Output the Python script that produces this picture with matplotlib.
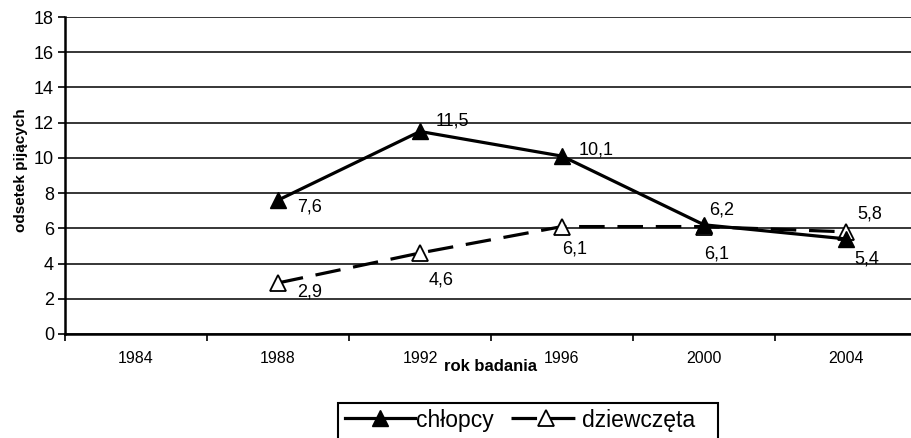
import matplotlib
matplotlib.use("Agg")
import matplotlib.pyplot as plt
from matplotlib.patches import Rectangle
import numpy as np

plt.rcParams['font.family'] = ['Liberation Sans', 'DejaVu Sans']

years = ["1984", "1988", "1992", "1996", "2000", "2004"]
chlopcy = [np.nan, 7.6, 11.5, 10.1, 6.2, 5.4]
dziewczeta = [np.nan, 2.9, 4.6, 6.1, 6.1, 5.8]
chl_labels = ["", "7,6", "11,5", "10,1", "6,2", "5,4"]
dz_labels = ["", "2,9", "4,6", "6,1", "6,1", "5,8"]

W, H = 912, 438
fig = plt.figure(figsize=(W / 100, H / 100), dpi=100)
ax = fig.add_axes([65 / W, 1 - 334 / H, 852 / W, 317 / H])

x = np.arange(len(years))
l1, = ax.plot(x, chlopcy, color='black', lw=2.3, marker='^', markersize=11,
              markerfacecolor='black', markeredgecolor='black', label='chłopcy', zorder=4)
l2, = ax.plot(x, dziewczeta, color='black', lw=2.3, marker='^', markersize=11,
              markerfacecolor='white', markeredgecolor='black', markeredgewidth=1.3,
              label='dziewczęta', dashes=(8, 4), zorder=3)

# data labels (offsets in points; left edge / vertical centre)
chl_off = [None, (14, -5), (11, 7.5), (12, 4.5), (4, 10.5), (6, -14.5)]
dz_off = [None, (14, -6.5), (6, -19.5), (0, -16.5), (0, -20), (8, 12.5)]
for i in range(len(years)):
    if chl_labels[i]:
        ax.annotate(chl_labels[i], (x[i], chlopcy[i]), xytext=chl_off[i],
                    textcoords='offset points', fontsize=13, va='center', ha='left')
    if dz_labels[i]:
        ax.annotate(dz_labels[i], (x[i], dziewczeta[i]), xytext=dz_off[i],
                    textcoords='offset points', fontsize=13, va='center', ha='left')

ax.set_xlim(-0.5, len(years) - 0.5)
ax.set_ylim(0, 18)
ax.set_yticks(np.arange(0, 19, 2))
ax.set_xticks(x)
ax.set_xticklabels(years, fontsize=11.5)
ax.set_xticks(np.arange(-0.5, len(years), 1), minor=True)
ax.tick_params(axis='x', which='major', length=0, pad=12.5)
ax.tick_params(axis='x', which='minor', length=5, direction='out', width=1.2)
ax.tick_params(axis='y', labelsize=13, length=5, direction='out', width=1.2, pad=3)
ax.yaxis.grid(True, color='black', lw=1.1)
ax.set_axisbelow(True)
for s in ['top', 'right']:
    ax.spines[s].set_visible(False)
for s in ['left', 'bottom']:
    ax.spines[s].set_linewidth(1.8)

ax.set_ylabel('odsetek pijących', fontsize=11, fontweight='bold', labelpad=4.5, y=0.517)
ax.set_xlabel('rok badania', fontsize=12, fontweight='bold', labelpad=-5)

# legend frame drawn in figure pixels (cut off at the bottom edge), content placed inside
fig.patches.append(Rectangle((338 / W, -0.1), (718 - 338) / W, 1.1 - 403 / H,
                             transform=fig.transFigure, fill=False,
                             edgecolor='black', lw=1.5, clip_on=False))
leg = fig.legend(handles=[l1, l2], loc='center left', bbox_to_anchor=(345 / W, 1 - 420 / H),
                 ncol=2, frameon=False, fontsize=16.5, handlelength=3.05,
                 columnspacing=0.74, handletextpad=0.05, borderpad=0, borderaxespad=0)

fig.savefig('out.png', dpi=100)
